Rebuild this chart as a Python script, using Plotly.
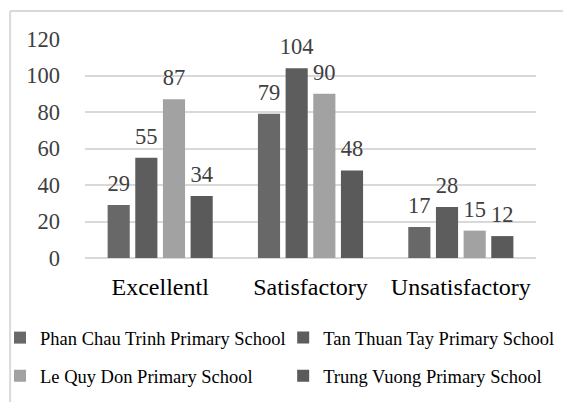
import plotly.graph_objects as go

categories = ["Excellentl", "Satisfactory", "Unsatisfactory"]
series_names = [
    "Phan Chau Trinh Primary School",
    "Tan Thuan Tay Primary School",
    "Le Quy Don Primary School",
    "Trung Vuong Primary School",
]
series_values = [
    [29, 79, 17],
    [55, 104, 28],
    [87, 90, 15],
    [34, 48, 12],
]
series_colors = ["#686868", "#5d5d5d", "#a2a2a2", "#5a5a5a"]
y_ticks = [0, 20, 40, 60, 80, 100, 120]

FONT = "Liberation Serif, Times New Roman, serif"
legend_ids = ["legend", "legend2", "legend3", "legend4"]
legend_pos = [(-0.005, 0.159), (0.503, 0.159), (-0.005, 0.064), (0.503, 0.064)]

fig = go.Figure()
for i, (name, vals, col) in enumerate(zip(series_names, series_values, series_colors)):
    fig.add_trace(go.Bar(
        name=name, x=categories, y=vals,
        marker=dict(color=col, line=dict(width=0)),
        offsetgroup=str(i), legend=legend_ids[i],
    ))
for i, (name, vals) in enumerate(zip(series_names, series_values)):
    fig.add_trace(go.Scatter(
        x=categories, y=vals, mode="markers+text", text=vals,
        textposition="top center", offsetgroup=str(i), showlegend=False,
        marker=dict(size=12, opacity=0), cliponaxis=False, hoverinfo="skip",
        textfont=dict(family=FONT, size=22.5, color="#404040"),
    ))

layout_legends = {}
for lid, (lx, ly) in zip(legend_ids, legend_pos):
    layout_legends[lid] = dict(
        orientation="h", xref="container", yref="container",
        x=lx, xanchor="left", y=ly, yanchor="middle",
        font=dict(family=FONT, size=18.5, color="#000000"),
        itemclick=False, bgcolor="rgba(0,0,0,0)", borderwidth=0,
    )

fig.update_layout(
    width=563, height=402,
    margin=dict(l=85, r=27, t=39, b=144, autoexpand=False),
    paper_bgcolor="white", plot_bgcolor="white",
    barmode="group", bargap=0.264, bargroupgap=0.2,
    scattermode="group", scattergap=0.264,
    font=dict(family=FONT, color="#000000"),
    showlegend=True,
    xaxis=dict(showgrid=False, showline=False, ticks="", ticklabelstandoff=12,
               tickfont=dict(family=FONT, size=24, color="#000000")),
    yaxis=dict(range=[0, 120], tickvals=y_ticks, showgrid=True, gridcolor="#d9d9d9",
               gridwidth=1.5, zeroline=True, zerolinecolor="#d9d9d9", zerolinewidth=1.5,
               showline=False, ticks="", ticklabelstandoff=24,
               tickfont=dict(family=FONT, size=22.5, color="#404040")),
    shapes=[
        dict(type="line", xref="paper", yref="paper", x0=-0.166, x1=1.2, y0=1.128, y1=1.128,
             line=dict(color="#d9d9d9", width=2)),
        dict(type="line", xref="paper", yref="paper", x0=-0.166, x1=-0.166, y0=1.128, y1=-1.0,
             line=dict(color="#d9d9d9", width=2)),
    ],
    **layout_legends,
)

fig.write_html("out.html")
